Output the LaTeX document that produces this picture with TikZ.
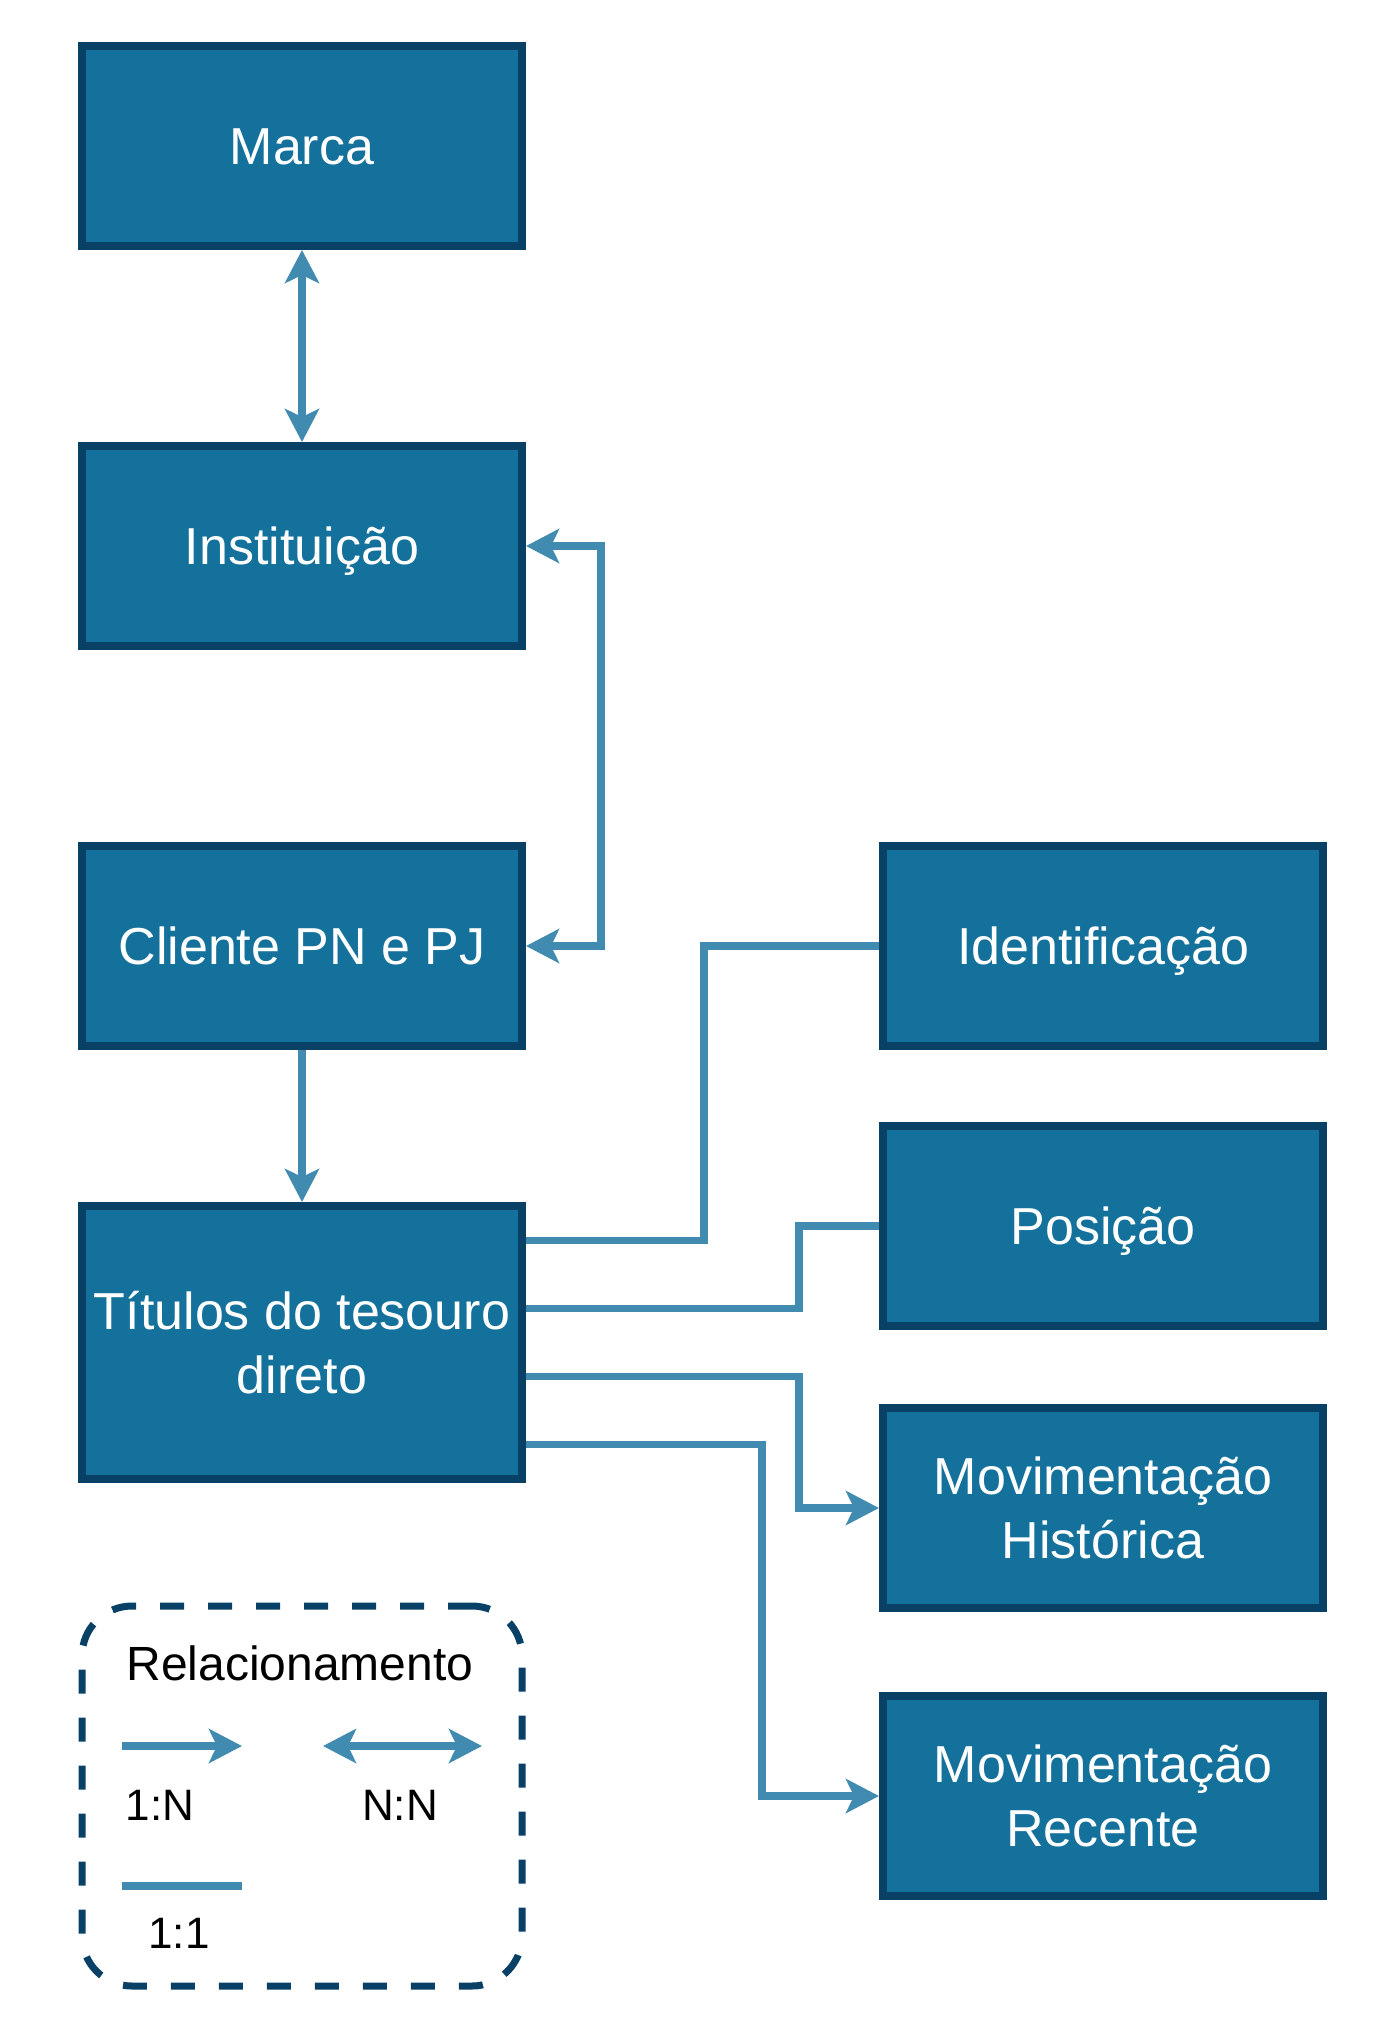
\documentclass[tikz,border=0pt]{standalone}
\usepackage{fontspec}
\setmainfont{Liberation Sans}
\usepackage{tikz}
\usetikzlibrary{arrows.meta,shapes,positioning}
\definecolor{boxfill}{RGB}{19,113,155}
\definecolor{boxline}{RGB}{9,65,102}
\definecolor{linkblue}{RGB}{66,139,176}
\begin{document}
\begin{tikzpicture}[x=5pt,y=5pt]
                    \tikzstyle{every node}+=[inner sep=0pt]
                    \tikzstyle{entity}=[draw=boxline, fill=boxfill, line width=4pt, minimum width=220pt, minimum height=100pt, text=white, align=center, text height=18.6pt, text depth=0pt, font=\fontsize{26pt}{32pt}\selectfont]
                    \tikzstyle{twoline}=[text height=50.6pt]
                    \tikzstyle{link}=[draw=linkblue, line width=3.8pt, >={Stealth[length=16.5pt,width=17pt,inset=4pt]}]
                    \tikzstyle{legendbox}=[draw=boxline, line width=3.5pt, dash pattern=on 12pt off 12pt, rounded corners=25pt, minimum width=220pt, minimum height=190pt]
                    \tikzstyle{legendtext}=[anchor=base, font=\fontsize{22pt}{26pt}\selectfont]
                    \useasboundingbox (0,0) rectangle (137.2,-203.6);
                    % left column
                    \node (marca) [entity] at (30.2,-14.6) {Marca};
                    \node (inst) [entity] at (30.2,-54.6) {Instituição};
                    \node (cli) [entity] at (30.2,-94.6) {Cliente PN e PJ};
                    \node (tit) [entity, twoline, minimum height=136.5pt] at (30.2,-134.25) {Títulos do tesouro\\direto};
                    % right column
                    \node (ident) [entity] at (110.3,-94.6) {Identificação};
                    \node (pos) [entity] at (110.3,-122.6) {Posição};
                    \node (hist) [entity, twoline] at (110.3,-150.8) {Movimentação\\Histórica};
                    \node (rec) [entity, twoline] at (110.3,-179.6) {Movimentação\\Recente};
                    % relationships
                    \draw [link, <->] (marca) -- (inst);
                    \draw [link, <->] (inst.east) -- (60.1,-54.6) |- (cli.east);
                    \draw [link, ->] (cli) -- (tit);
                    \draw [link] ([yshift=51pt]tit.east) -| (70.4,-94.6) -- (ident.west);
                    \draw [link] ([yshift=17pt]tit.east) -| (79.9,-122.6) -- (pos.west);
                    \draw [link, ->] ([yshift=-17pt]tit.east) -| (79.9,-150.8) -- (hist.west);
                    \draw [link, ->] ([yshift=-51pt]tit.east) -| (76.2,-179.6) -- (rec.west);
                    % legend
                    \node (leg) [legendbox] at (30.2,-179.6) {};
                    \node (legtitle) [legendtext, font=\fontsize{24pt}{28pt}\selectfont] at (30,-168) {Relacionamento};
                    \coordinate (onen-s) at (12.2,-174.6);
                    \coordinate (onen-e) at (24.2,-174.6);
                    \coordinate (nn-s) at (32.3,-174.6);
                    \coordinate (nn-e) at (48.2,-174.6);
                    \coordinate (oneone-s) at (12.2,-188.6);
                    \coordinate (oneone-e) at (24.2,-188.6);
                    \draw [link, ->] (onen-s) -- (onen-e);
                    \draw [link, <->] (nn-s) -- (nn-e);
                    \draw [link] (oneone-s) -- (oneone-e);
                    \node (onen) [legendtext] at (16,-182) {1:N};
                    \node (nn) [legendtext] at (40,-182) {N:N};
                    \node (oneone) [legendtext] at (17.9,-194.8) {1:1};
                \end{tikzpicture}
\end{document}
